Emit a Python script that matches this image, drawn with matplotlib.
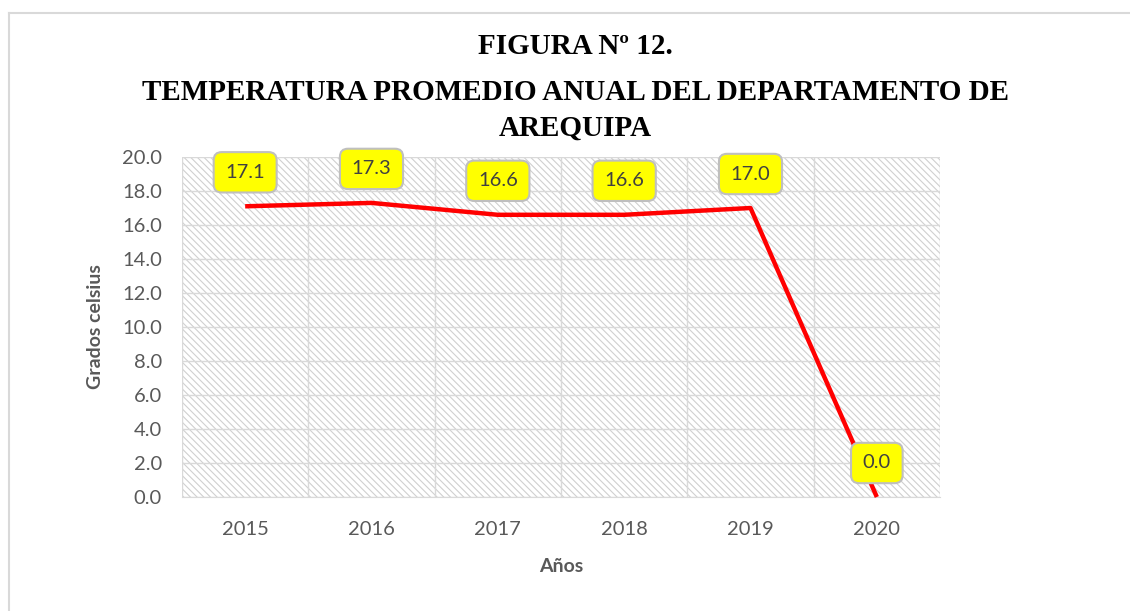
import numpy as np
import matplotlib.pyplot as plt
from matplotlib.lines import Line2D

years = ["2015", "2016", "2017", "2018", "2019", "2020"]
temps = [17.1, 17.3, 16.6, 16.6, 17.0, 0.0]
yticks = [0, 2, 4, 6, 8, 10, 12, 14, 16, 18, 20]

W, H = 1130, 611
fig = plt.figure(figsize=(W / 100, H / 100), dpi=100)
fig.patch.set_facecolor("white")

# outer chart border (only top and left visible in the crop)
fig.add_artist(Line2D([9 / W, 9 / W], [0, 1 - 13 / H], transform=fig.transFigure, color="#d9d9d9", lw=1.5))
fig.add_artist(Line2D([9 / W, 1], [1 - 13 / H, 1 - 13 / H], transform=fig.transFigure, color="#d9d9d9", lw=1.5))

x0, x1, y0, y1 = 182, 940, 157, 497
ax = fig.add_axes([x0 / W, 1 - y1 / H, (x1 - x0) / W, (y1 - y0) / H])
ax.set_xlim(-0.5, len(years) - 0.5)
ax.set_ylim(0, 20)

# hatched background
plt.rcParams["hatch.color"] = "#d0d0d0"
plt.rcParams["hatch.linewidth"] = 0.8
ax.add_patch(plt.Rectangle((0, 0), 1, 1, transform=ax.transAxes, facecolor="white",
                           edgecolor="#d0d0d0", hatch="\\\\\\\\\\", lw=0, zorder=0))

for v in yticks:
    ax.axhline(v, color="#d9d9d9", lw=1.0, zorder=1)
for i in range(len(years) + 1):
    ax.axvline(i - 0.5, color="#d9d9d9", lw=1.0, zorder=1)

xs = np.arange(len(years))
ax.plot(xs, temps, color="#ff0000", lw=3.2, solid_capstyle="butt", zorder=3, clip_on=False)

for x, t in zip(xs, temps):
    ax.annotate(f"{t:.1f}", (x, t), xytext=(0, 34), textcoords="offset pixels",
                ha="center", va="center", fontsize=14.5, family="Lato", color="#404040", zorder=5,
                bbox=dict(boxstyle="round,pad=0.58,rounding_size=0.4", fc="#ffff00", ec="#bfbfbf", lw=1.5))

for s in ax.spines.values():
    s.set_visible(False)
ax.spines["bottom"].set_visible(True)
ax.spines["bottom"].set_color("#d9d9d9")

ax.set_xticks(xs)
ax.set_xticklabels(years)
ax.set_yticks(yticks)
ax.set_yticklabels([f"{v:.1f}" for v in yticks])
ax.tick_params(length=0, labelsize=14.5, colors="#595959")
ax.tick_params(axis="y", pad=14.5)
ax.tick_params(axis="x", pad=17)
for lab in ax.get_xticklabels() + ax.get_yticklabels():
    lab.set_family("Lato")

ax.set_xlabel("Años", fontsize=14, fontweight="bold", color="#595959", family="Lato", labelpad=15)
ax.set_ylabel("Grados celsius", fontsize=14, fontweight="bold", color="#595959", family="Lato", labelpad=13)

title_kw = dict(ha="center", va="center", fontsize=21, fontweight="bold", family="Liberation Serif", color="black")
fig.text(575 / W, 1 - 47 / H, "FIGURA Nº 12.", **title_kw)
fig.text(575 / W, 1 - 92 / H, "TEMPERATURA PROMEDIO ANUAL DEL DEPARTAMENTO DE", **title_kw)
fig.text(575 / W, 1 - 128 / H, "AREQUIPA", **title_kw)

fig.savefig("out.png", dpi=100)
